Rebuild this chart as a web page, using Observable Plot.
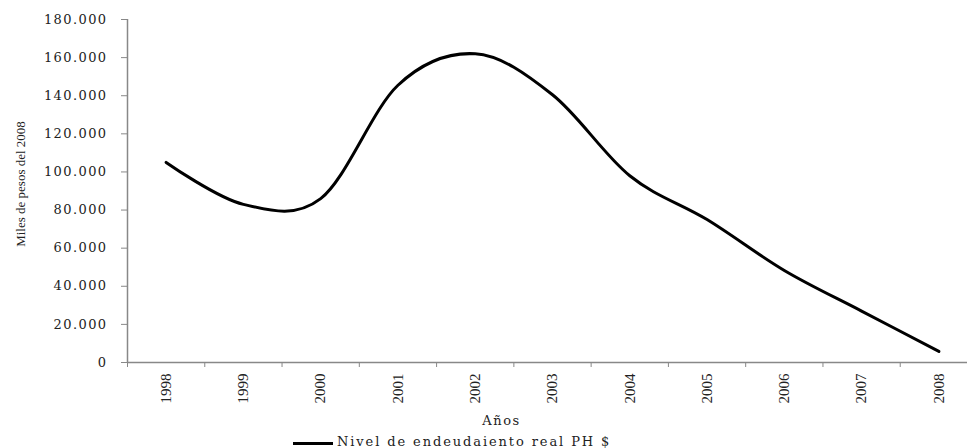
<!DOCTYPE html>
<html>
<head>
<meta charset="utf-8">
<script src="https://cdn.jsdelivr.net/npm/d3@7"></script>
<script src="https://cdn.jsdelivr.net/npm/@observablehq/plot@0.6"></script>
<style>
  html, body { margin: 0; padding: 0; background: #fff; width: 967px; overflow: hidden; }
  #chart svg { display: block; overflow: visible; }
  g[aria-label="y-axis tick label"] text { font-family: "DejaVu Serif", serif; font-size: 13px; letter-spacing: 1.4px; fill: #222; }
  g[aria-label="x-axis tick label"] text { font-family: "Liberation Serif", serif; font-size: 15px; fill: #222; }
  #legend { position: relative; height: 18px; font-family: "DejaVu Serif", serif; font-size: 13px; letter-spacing: 1.9px; color: #222; }
  #legend .sw { position: absolute; left: 293px; top: 12px; width: 40px; border-top: 3px solid #000; }
  #legend .lt { position: absolute; left: 337px; top: 4px; white-space: nowrap; }
</style>
</head>
<body>
<div id="chart"></div>
<div id="legend"><span class="sw"></span><span class="lt">Nivel de endeudaiento real PH $</span></div>
<script>
const years = [1998, 1999, 2000, 2001, 2002, 2003, 2004, 2005, 2006, 2007, 2008];
const values = [105000, 83000, 86000, 145500, 162000, 140500, 98000, 75000, 48300, 27000, 5800];
const yTicks = [0, 20000, 40000, 60000, 80000, 100000, 120000, 140000, 160000, 180000];
const yTitle = "Miles de pesos del 2008";
const xTitle = "Años";
const seriesName = "Nivel de endeudaiento real PH $";

const data = years.map((y, i) => ({year: y, value: values[i]}));
const boundaries = years.map(y => y - 0.5).concat([years[years.length - 1] + 0.5]);
const es = d3.formatLocale({decimal: ",", thousands: ".", grouping: [3], currency: ["$", ""]});
const fmt = es.format(",");

const H = 430;
const chart = Plot.plot({
  width: 967,
  height: H,
  marginTop: 19,
  marginBottom: H - 362,
  marginLeft: 127,
  marginRight: 0,
  x: {domain: [boundaries[0], boundaries[boundaries.length - 1]], range: [127, 977]},
  y: {domain: [0, 180000], range: [362, 19]},
  marks: [
    Plot.ruleX([boundaries[0]], {stroke: "#888", strokeWidth: 1.5}),
    Plot.ruleY([0], {stroke: "#888", strokeWidth: 1.5}),
    Plot.axisY({ticks: yTicks, tickSize: 6, tickPadding: 14, stroke: "#888", tickFormat: fmt, label: null}),
    Plot.axisX({ticks: boundaries, tickSize: 5, stroke: "#888", tickFormat: () => "", label: null}),
    Plot.axisX({ticks: years, tickSize: 0, tickPadding: 11, tickRotate: -90, tickFormat: d => String(d), label: null}),
    Plot.line(data, {x: "year", y: "value", curve: "cardinal", tension: 0, stroke: "#000", strokeWidth: 3}),
    Plot.text([yTitle], {frameAnchor: "left", textAnchor: "middle", dx: -107, dy: -7, rotate: -90,
      fontFamily: "Liberation Serif", fontSize: 13, fill: "#222"}),
    Plot.text([xTitle], {frameAnchor: "bottom", dx: -46, dy: 62,
      fontFamily: "DejaVu Serif", fontSize: 13, fill: "#222"})
  ]
});
d3.select(chart).selectAll("text").filter(function() { return this.textContent === xTitle; })
  .style("letter-spacing", "1.6px");
document.getElementById("chart").appendChild(chart);
</script>
</body>
</html>
